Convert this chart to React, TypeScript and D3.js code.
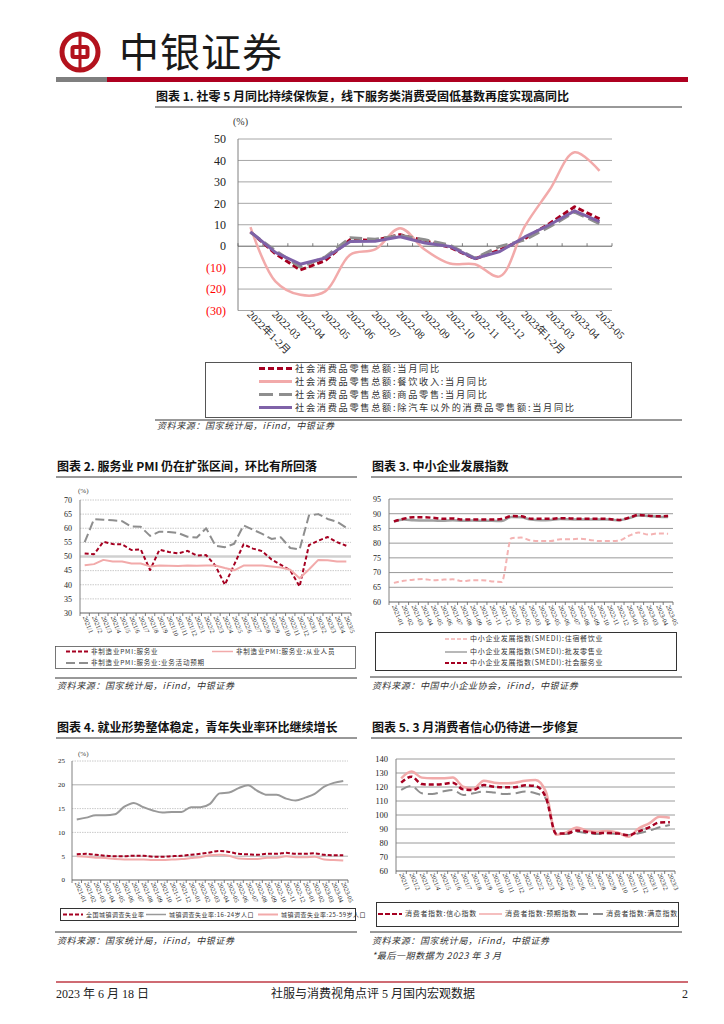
import React from 'react';
import * as d3 from 'd3';

const CJK = '"Noto Sans CJK SC", sans-serif';
const SERIF = '"Liberation Serif", "Noto Sans CJK SC", serif';

const RED = '#A50021';
const PINK = '#F2AAAA';
const GRAY = '#8E8E8E';
const PURPLE = '#7F62A8';

// 图表1
const months1 = ['2022年1-2月', '2022-03', '2022-04', '2022-05', '2022-06', '2022-07', '2022-08', '2022-09', '2022-10', '2022-11', '2022-12', '2023年1-2月', '2023-03', '2023-04', '2023-05'];
const retailYoY = [6.7, -3.5, -11.1, -6.7, 3.1, 2.7, 5.4, 2.5, -0.5, -5.9, -1.8, 3.5, 10.6, 18.4, 12.7];
const cateringYoY = [8.9, -16.4, -22.7, -21.1, -4.0, -1.5, 8.4, -1.7, -8.1, -8.4, -14.1, 9.2, 26.3, 43.8, 35.1];
const goodsYoY = [6.5, -2.1, -9.7, -5.0, 3.9, 3.2, 5.1, 3.0, 0.5, -5.6, -0.1, 2.9, 9.1, 15.9, 10.5];
const exAutoYoY = [6.7, -2.9, -8.4, -5.5, 2.2, 2.3, 4.4, 1.5, -0.1, -5.8, -2.5, 4.3, 10.0, 16.5, 11.5];

// 图表2
const months2 = ['2021/1', '2021/2', '2021/3', '2021/4', '2021/5', '2021/6', '2021/7', '2021/8', '2021/9', '2021/10', '2021/11', '2021/12', '2022/1', '2022/2', '2022/3', '2022/4', '2022/5', '2022/6', '2022/7', '2022/8', '2022/9', '2022/10', '2022/11', '2022/12', '2023/1', '2023/2', '2023/3', '2023/4', '2023/5'];
const pmiServices = [51.1, 50.8, 55.2, 54.4, 54.3, 52.3, 52.5, 45.2, 52.4, 51.6, 51.1, 52.0, 50.3, 50.5, 46.7, 40.0, 47.1, 54.3, 52.8, 51.9, 48.9, 47.0, 45.1, 39.4, 54.0, 55.6, 56.9, 55.1, 53.8];
const pmiEmployment = [46.9, 47.3, 48.8, 48.2, 48.2, 47.5, 47.5, 46.5, 46.8, 46.7, 46.6, 46.8, 46.7, 46.8, 46.8, 45.9, 45.1, 46.8, 46.8, 46.8, 46.5, 46.1, 45.3, 42.3, 45.4, 48.8, 48.7, 48.2, 48.2];
const pmiExpect = [55.1, 63.2, 63.0, 62.8, 62.5, 60.6, 60.5, 57.3, 58.8, 58.7, 58.3, 57.0, 56.7, 60.0, 53.8, 53.3, 54.5, 61.0, 59.5, 58.0, 56.2, 56.8, 53.0, 52.5, 64.5, 65.0, 63.3, 62.3, 60.2];

// 图表3
const months3 = ['2021-01', '2021-02', '2021-03', '2021-04', '2021-05', '2021-06', '2021-07', '2021-08', '2021-09', '2021-10', '2021-11', '2021-12', '2022-01', '2022-02', '2022-03', '2022-04', '2022-05', '2022-06', '2022-07', '2022-08', '2022-09', '2022-10', '2022-11', '2022-12', '2023-01', '2023-02', '2023-03', '2023-04', '2023-05'];
const smediCatering = [66.5, 67.2, 67.6, 67.8, 67.4, 67.6, 67.7, 67.1, 67.4, 67.4, 67.0, 66.8, 81.7, 81.9, 80.9, 80.7, 80.7, 81.3, 81.3, 81.5, 81.1, 80.7, 80.7, 80.9, 82.5, 83.6, 82.9, 83.3, 83.2];
const smediWholesale = [87.3, 88.0, 87.8, 87.7, 87.7, 87.6, 87.8, 87.6, 87.7, 87.6, 87.6, 87.5, 88.9, 88.8, 88.0, 87.8, 87.9, 88.2, 88.1, 88.0, 88.0, 88.0, 88.0, 87.8, 88.5, 89.4, 89.2, 89.0, 88.9];
const smediSocial = [87.4, 88.3, 88.8, 88.8, 88.6, 88.3, 88.4, 88.0, 88.0, 88.0, 88.0, 88.2, 89.2, 89.1, 88.3, 88.3, 88.3, 88.5, 88.4, 88.3, 88.3, 88.3, 88.2, 87.9, 88.6, 89.6, 89.3, 89.1, 89.2];

// 图表4
const months4 = months3;
const urbanRate = [5.4, 5.5, 5.3, 5.1, 5.0, 5.0, 5.1, 5.1, 4.9, 4.9, 5.0, 5.1, 5.3, 5.5, 5.8, 6.1, 5.9, 5.5, 5.4, 5.3, 5.5, 5.5, 5.7, 5.5, 5.5, 5.6, 5.3, 5.2, 5.2];
const youthRate = [12.7, 13.1, 13.6, 13.6, 13.8, 15.4, 16.2, 15.3, 14.6, 14.2, 14.3, 14.3, 15.3, 15.3, 16.0, 18.2, 18.4, 19.3, 19.9, 18.7, 17.9, 17.9, 17.1, 16.7, 17.3, 18.1, 19.6, 20.4, 20.8];
const primeRate = [5.0, 4.9, 4.7, 4.6, 4.4, 4.3, 4.3, 4.3, 4.2, 4.2, 4.3, 4.4, 4.6, 4.8, 5.2, 5.3, 5.1, 4.5, 4.4, 4.4, 4.7, 4.7, 5.0, 4.8, 4.8, 4.9, 4.3, 4.2, 4.1];

// 图表5
const months5 = ['2021/1', '2021/2', '2021/3', '2021/4', '2021/5', '2021/6', '2021/7', '2021/8', '2021/9', '2021/10', '2021/11', '2021/12', '2022/1', '2022/2', '2022/3', '2022/4', '2022/5', '2022/6', '2022/7', '2022/8', '2022/9', '2022/10', '2022/11', '2022/12', '2023/1', '2023/2', '2023/3'];
const confidence = [123.1, 127.4, 122.1, 121.7, 122.1, 123.1, 118.3, 117.9, 121.4, 120.2, 119.8, 119.8, 121.2, 120.7, 112.6, 86.7, 86.8, 88.9, 87.9, 87.0, 87.2, 86.8, 85.5, 88.3, 91.2, 94.7, 94.9];
const expectation = [126.2, 131.0, 126.7, 126.2, 126.2, 126.7, 120.2, 118.8, 124.5, 123.1, 122.6, 123.1, 124.5, 125.0, 116.7, 85.9, 87.6, 91.0, 88.8, 88.1, 88.6, 87.4, 84.5, 90.5, 94.0, 98.8, 98.1];
const satisfaction = [117.9, 120.7, 115.5, 115.0, 116.7, 117.9, 114.3, 115.5, 116.7, 116.0, 115.0, 115.5, 116.7, 115.5, 111.9, 86.4, 86.4, 88.1, 86.9, 86.4, 86.9, 86.4, 85.7, 86.9, 88.8, 91.2, 92.9];

type Series = { data: number[]; color: string; width: number; dash?: string; smooth?: boolean };
type GridStyle = { stroke: string; width: number; dash?: string } | null;

type PanelProps = {
  cats: string[];
  lines: Series[];
  x0: number;
  x1: number;
  yDomain: [number, number];
  yTop: number;
  yBot: number;
  ticks: number[];
  tickX: number;
  tickSize: number;
  tickFmt?: (v: number) => string;
  tickFill?: (v: number) => string;
  grid: (v: number) => GridStyle;
  labelSize: number;
  labelAngle: number;
  labelY: number;
  labelDx: number;
  zeroAxis?: boolean;
  curve: d3.CurveFactory;
};

function Panel(p: PanelProps) {
  const x = d3.scaleBand<string>().domain(p.cats).range([p.x0, p.x1]);
  const y = d3.scaleLinear().domain(p.yDomain).range([p.yBot, p.yTop]);
  const cx = (c: string) => (x(c) ?? 0) + x.bandwidth() / 2;
  const baseY = p.zeroAxis ? y(0) : p.yBot;
  const tickUp = p.zeroAxis ? -3 : 3;
  const bounds = [...p.cats.map((c) => x(c) ?? 0), p.x1];
  return (
    <g>
      {p.ticks.map((t) => {
        const g = p.grid(t);
        return g ? (
          <line key={'g' + t} x1={p.x0} x2={p.x1} y1={y(t)} y2={y(t)} stroke={g.stroke} strokeWidth={g.width} strokeDasharray={g.dash} />
        ) : null;
      })}
      <line x1={p.x0} x2={p.x0} y1={p.yTop} y2={p.yBot} stroke="#808080" strokeWidth={1} />
      <line x1={p.x0} x2={p.x1} y1={baseY} y2={baseY} stroke="#606060" strokeWidth={1} />
      {bounds.map((b, i) => (
        <line key={'t' + i} x1={b} x2={b} y1={baseY} y2={baseY + tickUp} stroke="#606060" strokeWidth={0.8} />
      ))}
      {p.ticks.map((t) => (
        <text key={'l' + t} x={p.tickX} y={y(t)} dy="0.35em" textAnchor="end" fontFamily={SERIF} fontSize={p.tickSize} fill={p.tickFill ? p.tickFill(t) : '#222'}>
          {p.tickFmt ? p.tickFmt(t) : String(t)}
        </text>
      ))}
      {p.cats.map((c) => (
        <text key={'x' + c} transform={`translate(${cx(c) + p.labelDx},${p.labelY}) rotate(${p.labelAngle})`} fontFamily={SERIF} fontSize={p.labelSize} fill="#222">
          {c}
        </text>
      ))}
      {p.lines.map((s, i) => {
        const line = d3
          .line<number>()
          .x((_, j) => cx(p.cats[j]))
          .y((v) => y(v))
          .curve(s.smooth ? p.curve : d3.curveLinear);
        return (
          <path key={'s' + i} d={line(s.data) ?? ''} fill="none" stroke={s.color} strokeWidth={s.width} strokeDasharray={s.dash} strokeLinejoin="round" />
        );
      })}
    </g>
  );
}

function LegendItem(props: { x: number; y: number; w: number; color: string; width: number; dash?: string; text: string; size: number; spacing: number }) {
  const { x, y, w, color, width, dash, text, size, spacing } = props;
  return (
    <g>
      <line x1={x} x2={x + w} y1={y} y2={y} stroke={color} strokeWidth={width} strokeDasharray={dash} />
      <text x={x + w + 3} y={y} dy="0.35em" fontFamily={CJK} fontSize={size} letterSpacing={spacing} fill="#333">
        {text}
      </text>
    </g>
  );
}

function Title(props: { x: number; y: number; x2: number; text: string; size: number }) {
  return (
    <g>
      <text x={props.x} y={props.y} fontFamily={CJK} fontWeight="bold" fontSize={props.size} fill="#111">
        {props.text}
      </text>
      <line x1={props.x - 1} x2={props.x2} y1={props.y + 6} y2={props.y + 6} stroke="#333" strokeWidth={1} />
    </g>
  );
}

function Source(props: { x: number; y: number; x2: number; text: string; lineY: number }) {
  return (
    <g>
      <line x1={props.x - 2} x2={props.x2} y1={props.lineY} y2={props.lineY} stroke="#333" strokeWidth={1} />
      <text x={props.x} y={props.y} fontFamily={CJK} fontStyle="italic" fontSize={9} letterSpacing={0.6} fill="#333">
        {props.text}
      </text>
    </g>
  );
}

const App = () => {
  const neg = (v: number) => (v < 0 ? `(${Math.abs(v)})` : String(v));
  const negFill = (v: number) => (v < 0 ? '#FF0000' : '#222');
  const smooth = d3.curveCatmullRom.alpha(0.5);
  const mono = d3.curveMonotoneX;

  return (
    <svg width={724} height={1024} style={{ position: 'absolute', left: 0, top: 0, background: '#fff' }}>
      {/* 页眉 */}
      <circle cx={80} cy={52} r={18} fill="none" stroke="#B3121D" strokeWidth={5} />
      <rect x={72.5} y={47} width={15} height={10} rx={1.5} fill="none" stroke="#B3121D" strokeWidth={4} />
      <rect x={78.5} y={33} width={3} height={38} fill="#B3121D" />
      <text x={119} y={67} fontFamily={CJK} fontSize={40} letterSpacing={1} fill="#1a1a1a">
        中银证券
      </text>
      <rect x={56} y={77} width={51} height={5} fill="#7F7F7F" />
      <rect x={107} y={77} width={581} height={5} fill="#AE0020" />

      {/* 图表1 */}
      <Title x={156} y={101} x2={682} size={12} text="图表 1. 社零 5 月同比持续保恢复，线下服务类消费受固低基数再度实现高同比" />
      <text x={233} y={125} fontFamily={SERIF} fontSize={10} fill="#333">(%)</text>
      <Panel
        cats={months1}
        lines={[
          { data: retailYoY, color: RED, width: 3, dash: '6,3' },
          { data: cateringYoY, color: PINK, width: 2.5, smooth: true },
          { data: goodsYoY, color: GRAY, width: 3, dash: '12,5' },
          { data: exAutoYoY, color: PURPLE, width: 3 },
        ]}
        x0={238}
        x1={612}
        yDomain={[-30, 50]}
        yTop={139}
        yBot={310.5}
        ticks={[-30, -20, -10, 0, 10, 20, 30, 40, 50]}
        tickX={226}
        tickSize={12}
        tickFmt={neg}
        tickFill={negFill}
        grid={(v) => (v === 0 ? null : { stroke: '#A6A6A6', width: 1 })}
        labelSize={10.5}
        labelAngle={45}
        labelY={315}
        labelDx={-4}
        zeroAxis
        curve={smooth}
      />
      <rect x={205.5} y={362.5} width={426} height={55} fill="none" stroke="#555" strokeWidth={1} />
      <LegendItem x={259} y={368.5} w={33} color={RED} width={3} dash="6,3" text="社会消费品零售总额:当月同比" size={9.2} spacing={1.7} />
      <LegendItem x={259} y={381.5} w={33} color={PINK} width={3} text="社会消费品零售总额:餐饮收入:当月同比" size={9.2} spacing={1.7} />
      <LegendItem x={259} y={394.5} w={33} color={GRAY} width={3} dash="14,6" text="社会消费品零售总额:商品零售:当月同比" size={9.2} spacing={1.7} />
      <LegendItem x={259} y={407.5} w={33} color={PURPLE} width={3} text="社会消费品零售总额:除汽车以外的消费品零售额:当月同比" size={9.2} spacing={1.7} />
      <Source x={157} y={429} x2={682} lineY={420} text="资料来源：国家统计局，iFind，中银证券" />

      {/* 图表2 */}
      <Title x={57} y={471} x2={357} size={12} text="图表 2. 服务业 PMI 仍在扩张区间，环比有所回落" />
      <text x={78} y={493} fontFamily={SERIF} fontSize={7} fill="#444">(%)</text>
      <Panel
        cats={months2}
        lines={[
          { data: pmiServices, color: RED, width: 2, dash: '4,2.5' },
          { data: pmiEmployment, color: PINK, width: 2 },
          { data: pmiExpect, color: GRAY, width: 2, dash: '9,4' },
        ]}
        x0={80}
        x1={351}
        yDomain={[30, 70]}
        yTop={500}
        yBot={613}
        ticks={[30, 35, 40, 45, 50, 55, 60, 65, 70]}
        tickX={72}
        tickSize={8}
        grid={(v) => (v === 30 ? null : v === 50 ? { stroke: '#D0D0D0', width: 2.5 } : { stroke: '#BDBDBD', width: 0.8, dash: '1.5,1' })}
        labelSize={6.5}
        labelAngle={68}
        labelY={617}
        labelDx={-2}
        curve={mono}
      />
      <rect x={55.5} y={646.5} width={300} height={22} fill="none" stroke="#555" strokeWidth={0.8} />
      <LegendItem x={66} y={651.5} w={22} color={RED} width={2} dash="4,2" text="非制造业PMI:服务业" size={6.5} spacing={0.8} />
      <LegendItem x={212} y={651.5} w={21} color={PINK} width={1.5} text="非制造业PMI:服务业:从业人员" size={6.5} spacing={0.8} />
      <LegendItem x={66} y={663} w={22} color={GRAY} width={2} dash="9,4" text="非制造业PMI:服务业:业务活动预期" size={6.5} spacing={0.8} />
      <Source x={57} y={689} x2={357} lineY={678} text="资料来源：国家统计局，iFind，中银证券" />

      {/* 图表3 */}
      <Title x={372} y={471} x2={682} size={12} text="图表 3. 中小企业发展指数" />
      <Panel
        cats={months3}
        lines={[
          { data: smediCatering, color: '#F4B3B3', width: 2, dash: '5,3', smooth: true },
          { data: smediWholesale, color: '#A0A0A0', width: 2.5, smooth: true },
          { data: smediSocial, color: RED, width: 2.5, dash: '5,3', smooth: true },
        ]}
        x0={389}
        x1={673}
        yDomain={[60, 95]}
        yTop={499}
        yBot={602}
        ticks={[60, 65, 70, 75, 80, 85, 90, 95]}
        tickX={381}
        tickSize={8}
        grid={(v) => (v === 60 ? null : { stroke: '#7F7F7F', width: 0.8 })}
        labelSize={6.5}
        labelAngle={68}
        labelY={606}
        labelDx={-2}
        curve={mono}
      />
      <rect x={375.5} y={632.5} width={301} height={38} fill="none" stroke="#333" strokeWidth={1} />
      <LegendItem x={445} y={639} w={22} color="#F4B3B3" width={1.5} dash="4,2" text="中小企业发展指数(SMEDI):住宿餐饮业" size={7} spacing={0.7} />
      <LegendItem x={445} y={652} w={22} color="#A0A0A0" width={1.5} text="中小企业发展指数(SMEDI):批发零售业" size={7} spacing={0.7} />
      <LegendItem x={445} y={663} w={22} color={RED} width={2} dash="4,2" text="中小企业发展指数(SMEDI):社会服务业" size={7} spacing={0.7} />
      <Source x={372} y={689} x2={682} lineY={677} text="资料来源：中国中小企业协会，iFind，中银证券" />

      {/* 图表4 */}
      <Title x={57} y={732} x2={357} size={12} text="图表 4. 就业形势整体稳定，青年失业率环比继续增长" />
      <text x={78} y={756} fontFamily={SERIF} fontSize={7} fill="#444">(%)</text>
      <Panel
        cats={months4}
        lines={[
          { data: youthRate, color: '#999999', width: 2, smooth: true },
          { data: primeRate, color: PINK, width: 2, smooth: true },
          { data: urbanRate, color: RED, width: 2, dash: '4,2', smooth: true },
        ]}
        x0={72}
        x1={348}
        yDomain={[0, 25]}
        yTop={761}
        yBot={880}
        ticks={[0, 5, 10, 15, 20, 25]}
        tickX={65}
        tickSize={7}
        grid={(v) => (v === 0 ? null : v === 20 || v === 5 ? { stroke: '#9A9A9A', width: 0.8 } : { stroke: '#BDBDBD', width: 0.8, dash: '1.5,1' })}
        labelSize={6.5}
        labelAngle={68}
        labelY={883}
        labelDx={-2}
        curve={mono}
      />
      <rect x={60.5} y={908.5} width={295} height={12} fill="none" stroke="#333" strokeWidth={1} />
      <LegendItem x={63} y={914.5} w={20} color={RED} width={2} dash="4,2" text="全国城镇调查失业率" size={6} spacing={0.5} />
      <LegendItem x={146} y={914.5} w={20} color="#999999" width={1.5} text="城镇调查失业率:16-24岁人口" size={6} spacing={0.5} />
      <LegendItem x={258} y={914.5} w={20} color={PINK} width={2} text="城镇调查失业率:25-59岁人口" size={6} spacing={0.5} />
      <Source x={57} y={944} x2={357} lineY={932} text="资料来源：国家统计局，iFind，中银证券" />

      {/* 图表5 */}
      <Title x={372} y={732} x2={682} size={12} text="图表 5. 3 月消费者信心仍待进一步修复" />
      <Panel
        cats={months5}
        lines={[
          { data: satisfaction, color: GRAY, width: 2, dash: '10,5', smooth: true },
          { data: expectation, color: PINK, width: 2.5, smooth: true },
          { data: confidence, color: RED, width: 2.5, dash: '5,3', smooth: true },
        ]}
        x0={396}
        x1={675}
        yDomain={[60, 140]}
        yTop={759}
        yBot={871}
        ticks={[60, 70, 80, 90, 100, 110, 120, 130, 140]}
        tickX={388}
        tickSize={8.5}
        grid={(v) => (v === 60 ? null : { stroke: '#808080', width: 0.8 })}
        labelSize={6.5}
        labelAngle={68}
        labelY={874}
        labelDx={-2}
        curve={mono}
      />
      <rect x={376.5} y={902.5} width={302} height={24} fill="none" stroke="#333" strokeWidth={1} />
      <LegendItem x={378} y={914} w={24} color={RED} width={2} dash="5,2" text="消费者指数:信心指数" size={7} spacing={0.7} />
      <LegendItem x={479} y={914} w={23} color={PINK} width={1.5} text="消费者指数:预期指数" size={7} spacing={0.7} />
      <LegendItem x={578} y={914} w={25} color={GRAY} width={2} dash="10,5" text="消费者指数:满意指数" size={7} spacing={0.7} />
      <Source x={372} y={944} x2={682} lineY={932} text="资料来源：国家统计局，iFind，中银证券" />
      <text x={372} y={959} fontFamily={CJK} fontStyle="italic" fontSize={9} letterSpacing={0.6} fill="#333">
        *最后一期数据为 2023 年 3 月
      </text>

      {/* 页脚 */}
      <line x1={56} x2={688} y1={982} y2={982} stroke="#CF6B73" strokeWidth={2} />
      <text x={56} y={998} fontFamily={SERIF} fontSize={12} fill="#222">2023 年 6 月 18 日</text>
      <text x={373} y={998} textAnchor="middle" fontFamily={SERIF} fontSize={12} fill="#222">社服与消费视角点评 5 月国内宏观数据</text>
      <text x={688} y={998} textAnchor="end" fontFamily={SERIF} fontSize={12} fill="#222">2</text>
    </svg>
  );
};

export default App;
